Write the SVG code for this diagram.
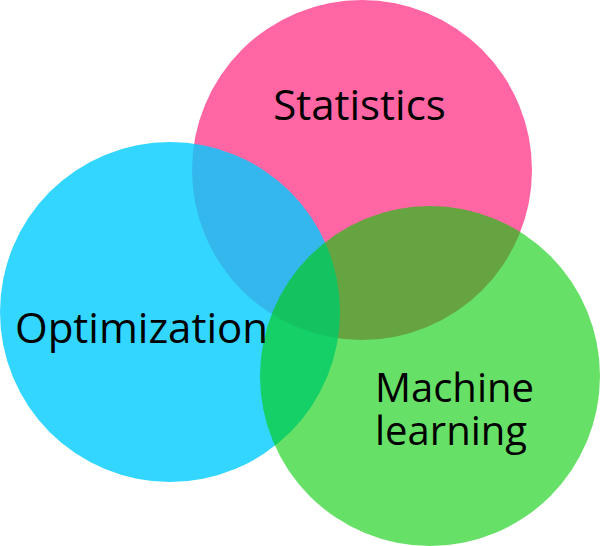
<svg xmlns="http://www.w3.org/2000/svg" width="600" height="546" viewBox="0 0 600 546">
<style>
.lbl{font-family:"Open Sans","Noto Sans","DejaVu Sans",sans-serif;font-size:42px;fill:#000}
.ml{font-size:40px}
</style>
<rect width="600" height="546" fill="#fff"/>
<g id="statistics">
<circle cx="362" cy="170" r="170" fill="#ff0066" fill-opacity="0.6"/>
</g>
<g id="optimization">
<circle cx="170" cy="312" r="170" fill="#00ccff" fill-opacity="0.8"/>
</g>
<g id="machine-learning">
<circle cx="430" cy="376" r="170" fill="#00cc00" fill-opacity="0.6"/>
</g>
<g id="labels">
<text class="lbl" x="359.5" y="120" text-anchor="middle">Statistics</text>
<text class="lbl" x="141.5" y="343" text-anchor="middle">Optimization</text>
<text class="lbl ml" x="375" y="402">Machine</text>
<text class="lbl ml" x="375" y="445">learning</text>
</g>
</svg>
